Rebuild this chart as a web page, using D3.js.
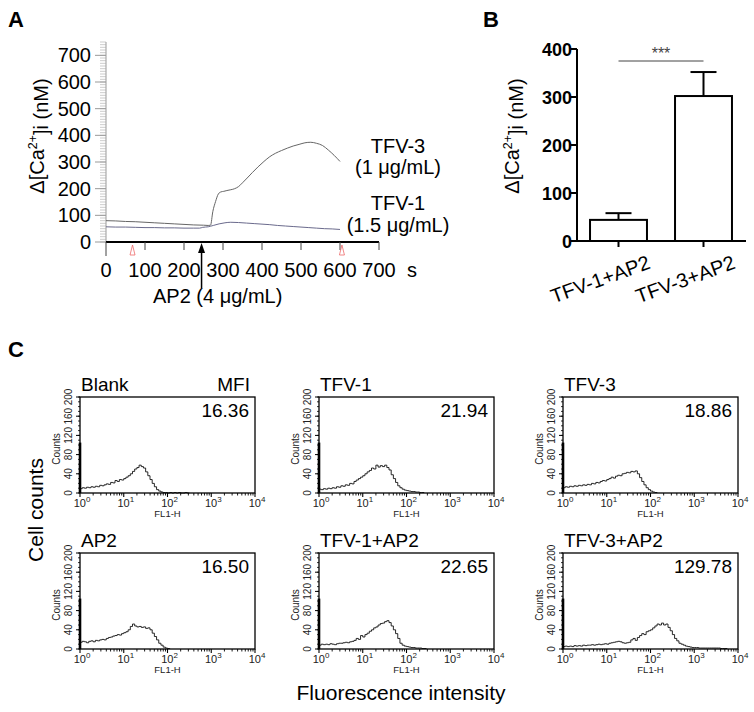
<!DOCTYPE html>
<html><head><meta charset="utf-8">
<script src="https://cdn.jsdelivr.net/npm/d3@7"></script>
<style>body{margin:0;background:#fff} svg{display:block;font-family:"Liberation Sans",Arial,Helvetica,sans-serif}</style>
</head><body><svg id="c" width="754" height="712"></svg>
<script>
// ---------- Panel A data ----------
const tfv3Time = [0,25,50,75,100,125,150,175,200,225,250,262,268,274,281,288,295,302,310,320,330,340,350,362,375,390,405,420,435,450,465,480,495,510,525,540,555,570,585,600];
const tfv3Val  = [80,79,77,76,74,72,70,68,66,64,63,62,63,115,152,180,188,190,193,196,200,208,222,240,260,282,302,320,333,343,352,360,366,372,374,370,362,345,325,302];
const tfv1Time = [0,25,50,75,100,125,150,175,200,225,240,248,262,275,290,305,320,340,360,380,400,420,440,460,480,500,520,540,560,580,600];
const tfv1Val  = [57,56,56,55,54,54,53,53,52,52,52,55,57,62,68,72,74,73,71,69,67,65,62,60,58,56,54,52,50,49,47];
const markerTimes = [68, 605];
const ap2Time = 245;
const aXTicks = [0,100,200,300,400,500,600,700];
const aYTicks = [0,100,200,300,400,500,600,700];

// ---------- Panel B data ----------
const barCats = ["TFV-1+AP2","TFV-3+AP2"];
const barMeans = [44, 302];
const barErr = [14, 50];
const bYTicks = [0,100,200,300,400];

// ---------- Panel C data (counts per 0.05-decade bin starting at 10^0) ----------
const histNames = ["Blank","TFV-1","TFV-3","AP2","TFV-1+AP2","TFV-3+AP2"];
const histMFI = ["16.36","21.94","18.86","16.50","22.65","129.78"];
const histBlank = [9,11,10,12,11,13,12,14,13,16,15,17,19,18,22,21,26,24,28,27,30,33,36,40,45,50,53,58,55,52,44,36,28,20,13,7,4,2,1,1,0,1,0,1,0,1,0,0,1,0,0];
const histTfv1 = [8,7,9,8,10,9,11,10,13,12,15,14,17,16,20,19,24,27,30,33,36,40,44,47,52,50,58,54,57,55,58,53,48,38,30,22,15,11,8,6,5,4,3,3,2,2,1,1,0];
const histTfv3 = [11,13,12,14,13,15,14,16,15,17,16,18,17,20,19,22,21,24,26,25,28,30,33,31,35,37,36,40,41,43,42,45,44,46,40,32,24,17,11,7,4,2,1,0];
const histAp2 = [14,16,15,13,16,17,15,18,17,19,20,19,22,24,25,27,28,30,29,32,34,36,40,47,52,48,46,47,45,46,43,44,40,33,26,19,12,8,4,2,1,0];
const histTfv1Ap2 = [8,10,9,10,9,11,10,9,11,12,12,13,14,13,15,16,18,22,20,28,25,30,33,37,40,44,46,50,53,54,57,59,55,48,40,32,22,12,8,6,5,4,3,3,2,2,2,1,1,0];
const histTfv3Ap2 = [5,6,5,6,5,7,6,7,6,8,7,8,8,9,8,9,10,9,10,11,10,12,13,14,15,16,15,13,12,13,14,19,22,18,24,28,32,30,36,38,40,44,48,52,50,54,50,52,45,38,30,22,17,12,10,8,6,5,4,3,3,3,2,2,2,2,2,2,2,2,2,2,1,1,1,0];
const histData = [histBlank, histTfv1, histTfv3, histAp2, histTfv1Ap2, histTfv3Ap2];
const binStep = 0.05;
const histYTicks = [0,40,80,120,160,200];
const histXTicks = [1,10,100,1000,10000];

const svg = d3.select("#c");

function caLabel(sel){
  sel.append("tspan").text("\u0394[Ca");
  sel.append("tspan").attr("font-size","0.62em").attr("dy","-0.55em").text("2+");
  sel.append("tspan").attr("dy","0.55em").text("]i (nM)");
}

// ================= Panel A =================
const ax = d3.scaleLinear().domain([0,700]).range([106,379]);
const ay = d3.scaleLinear().domain([0,750]).range([242,42]);
const A = svg.append("g");
A.append("text").attr("x",8).attr("y",27).attr("font-size",22).attr("font-weight","bold").text("A");

A.append("line").attr("x1",106).attr("x2",106).attr("y1",ay(0)).attr("y2",ay(750)).attr("stroke","#999").attr("stroke-width",1);
A.selectAll(".ymin").data(d3.range(0,751,10)).enter().append("line")
  .attr("x1",100).attr("x2",106).attr("y1",d=>ay(d)).attr("y2",d=>ay(d)).attr("stroke","#aaa").attr("stroke-width",0.6);
A.selectAll(".ymaj").data(aYTicks).enter().append("line")
  .attr("x1",95).attr("x2",106).attr("y1",d=>ay(d)).attr("y2",d=>ay(d)).attr("stroke","#999").attr("stroke-width",1);
A.selectAll(".ylab").data(aYTicks).enter().append("text")
  .attr("x",91).attr("y",d=>ay(d)+7).attr("text-anchor","end").attr("font-size",20).text(d=>d);
A.append("text").attr("transform","translate(44,136) rotate(-90)").attr("text-anchor","middle").attr("font-size",20).call(caLabel);

const lineA = d3.line().x(d=>ax(d[0])).y(d=>ay(d[1])).curve(d3.curveMonotoneX);
A.append("path").datum(tfv3Time.map((t,i)=>[t,tfv3Val[i]])).attr("d",lineA).attr("fill","none").attr("stroke","#666").attr("stroke-width",1);
A.append("path").datum(tfv1Time.map((t,i)=>[t,tfv1Val[i]])).attr("d",lineA).attr("fill","none").attr("stroke","#6a6a8c").attr("stroke-width",1);

A.append("line").attr("x1",ax(0)).attr("x2",ax(700)).attr("y1",242).attr("y2",242).attr("stroke","#000").attr("stroke-width",2);
A.selectAll(".xt").data(aXTicks).enter().append("line")
  .attr("x1",d=>ax(d)).attr("x2",d=>ax(d)).attr("y1",242).attr("y2",d=>d===0?256:250).attr("stroke","#444").attr("stroke-width",1);
A.selectAll(".xl").data(aXTicks).enter().append("text")
  .attr("x",d=>ax(d)).attr("y",277).attr("text-anchor","middle").attr("font-size",20).text(d=>d);
A.append("text").attr("x",407).attr("y",277).attr("font-size",20).text("s");

A.selectAll(".mk").data(markerTimes).enter().append("path")
  .attr("d",d=>`M${ax(d)},245 L${ax(d)-2.5},255 L${ax(d)+2.5},255 Z`)
  .attr("fill","none").attr("stroke","#ee6a6a").attr("stroke-width",0.8);

A.append("line").attr("x1",ax(ap2Time)).attr("x2",ax(ap2Time)).attr("y1",250).attr("y2",288).attr("stroke","#000").attr("stroke-width",1.5);
A.append("path").attr("d",`M${ax(ap2Time)},243 L${ax(ap2Time)-3.5},253 L${ax(ap2Time)+3.5},253 Z`).attr("fill","#000");
A.append("text").attr("x",153).attr("y",303).attr("font-size",20).text("AP2 (4 \u03bcg/mL)");

const lab = [["TFV-3",153],["(1 \u03bcg/mL)",174],["TFV-1",210],["(1.5 \u03bcg/mL)",232]];
A.selectAll(".tl").data(lab).enter().append("text")
  .attr("x",398).attr("y",d=>d[1]).attr("text-anchor","middle").attr("font-size",20).text(d=>d[0]);

// ================= Panel B =================
const B = svg.append("g");
B.append("text").attr("x",483).attr("y",27).attr("font-size",22).attr("font-weight","bold").text("B");
const bx = d3.scaleBand().domain(barCats).range([576,746]).paddingInner(0.33).paddingOuter(0.165);
const by = d3.scaleLinear().domain([0,400]).range([241,49]);
barCats.forEach((c,i)=>{
  const cx = bx(c)+bx.bandwidth()/2;
  B.append("line").attr("x1",cx).attr("x2",cx).attr("y1",by(barMeans[i])).attr("y2",by(barMeans[i]+barErr[i])).attr("stroke","#000").attr("stroke-width",2);
  B.append("line").attr("x1",cx-13).attr("x2",cx+13).attr("y1",by(barMeans[i]+barErr[i])).attr("y2",by(barMeans[i]+barErr[i])).attr("stroke","#000").attr("stroke-width",2);
});
B.selectAll(".bar").data(barCats).enter().append("rect")
  .attr("x",d=>bx(d)).attr("width",bx.bandwidth())
  .attr("y",(d,i)=>by(barMeans[i])).attr("height",(d,i)=>by(0)-by(barMeans[i]))
  .attr("fill","#fff").attr("stroke","#000").attr("stroke-width",2);
B.append("line").attr("x1",577).attr("x2",577).attr("y1",by(0)+1).attr("y2",by(400)).attr("stroke","#000").attr("stroke-width",2);
B.append("line").attr("x1",576).attr("x2",746).attr("y1",by(0)).attr("y2",by(0)).attr("stroke","#000").attr("stroke-width",2);
B.selectAll(".byt").data(bYTicks).enter().append("line")
  .attr("x1",571).attr("x2",577).attr("y1",d=>by(d)).attr("y2",d=>by(d)).attr("stroke","#000").attr("stroke-width",2);
B.selectAll(".byl").data(bYTicks).enter().append("text")
  .attr("x",572).attr("y",d=>by(d)+6.5).attr("text-anchor","end").attr("font-size",18).attr("font-weight","bold").text(d=>d);
B.selectAll(".bxt").data(barCats).enter().append("line")
  .attr("x1",d=>bx(d)+bx.bandwidth()/2).attr("x2",d=>bx(d)+bx.bandwidth()/2).attr("y1",by(0)).attr("y2",by(0)+6).attr("stroke","#000").attr("stroke-width",2);
B.selectAll(".bxl").data(barCats).enter().append("text")
  .attr("transform",d=>`translate(${bx(d)+bx.bandwidth()/2+33},268) rotate(-20)`)
  .attr("text-anchor","end").attr("font-size",20).text(d=>d);
B.append("text").attr("transform","translate(519,136) rotate(-90)").attr("text-anchor","middle").attr("font-size",20).call(caLabel);
const c1 = bx(barCats[0])+bx.bandwidth()/2, c2 = bx(barCats[1])+bx.bandwidth()/2;
B.append("line").attr("x1",c1).attr("x2",c2).attr("y1",61).attr("y2",61).attr("stroke","#444").attr("stroke-width",1);
B.append("text").attr("x",(c1+c2)/2).attr("y",59).attr("text-anchor","middle").attr("font-size",16).attr("fill","#444").text("***");

// ================= Panel C =================
const C = svg.append("g");
C.append("text").attr("x",8).attr("y",357).attr("font-size",22).attr("font-weight","bold").text("C");
const colX = [80,319,563];
const rowY = [397,553];
const W = 175, H = 96;

histNames.forEach((name,k)=>{
  const x0 = colX[k%3], y0 = rowY[Math.floor(k/3)];
  const g = C.append("g");
  const hx = d3.scaleLog().domain([1,10000]).range([x0,x0+W]);
  const hy = d3.scaleLinear().domain([0,200]).range([y0+H,y0]);
  const line = d3.line().x((d,i)=>hx(Math.pow(10,i*binStep))).y(d=>hy(d)).curve(d3.curveStepAfter);
  g.append("path").datum(histData[k]).attr("d",line).attr("fill","none").attr("stroke","#111").attr("stroke-width",0.9);
  g.append("rect").attr("x",x0).attr("y",y0).attr("width",W).attr("height",H).attr("fill","none").attr("stroke","#000").attr("stroke-width",1.3);
  g.append("line").attr("x1",x0).attr("x2",x0).attr("y1",hy(0)).attr("y2",hy(105)).attr("stroke","#000").attr("stroke-width",2.6);
  g.selectAll(".ymt").data(d3.range(0,201,10)).enter().append("line")
    .attr("x1",x0-2).attr("x2",x0).attr("y1",d=>hy(d)).attr("y2",d=>hy(d)).attr("stroke","#000").attr("stroke-width",0.8);
  g.selectAll(".yt").data(histYTicks).enter().append("line")
    .attr("x1",x0-4).attr("x2",x0).attr("y1",d=>hy(d)).attr("y2",d=>hy(d)).attr("stroke","#000").attr("stroke-width",1);
  g.selectAll(".yl").data(histYTicks).enter().append("text")
    .attr("transform",d=>`translate(${x0-8.5},${hy(d)}) rotate(-90)`).attr("text-anchor","middle")
    .attr("font-size",10).attr("fill","#222").text(d=>d);
  g.append("text").attr("transform",`translate(${x0-20},${y0+H/2+4}) rotate(-90)`).attr("text-anchor","middle")
    .attr("font-size",10).attr("fill","#222").text("Counts");
  const minors = [];
  for(let e=0;e<4;e++) for(let m=2;m<10;m++) minors.push(m*Math.pow(10,e));
  g.selectAll(".xmt").data(minors).enter().append("line")
    .attr("x1",d=>hx(d)).attr("x2",d=>hx(d)).attr("y1",y0+H).attr("y2",y0+H+2.5).attr("stroke","#000").attr("stroke-width",0.9);
  g.selectAll(".xt").data(histXTicks).enter().append("line")
    .attr("x1",d=>hx(d)).attr("x2",d=>hx(d)).attr("y1",y0+H).attr("y2",y0+H+4).attr("stroke","#000").attr("stroke-width",1.1);
  const xl = g.selectAll(".xl").data(histXTicks).enter().append("text")
    .attr("x",d=>hx(d)+2).attr("y",y0+H+14).attr("text-anchor","middle").attr("font-size",11).attr("fill","#222");
  xl.append("tspan").text("10");
  xl.append("tspan").attr("font-size",8).attr("dy",-5).text(d=>Math.round(Math.log10(d)));
  g.append("text").attr("x",x0+W/2).attr("y",y0+H+24).attr("text-anchor","middle").attr("font-size",9.5).attr("fill","#222").text("FL1-H");
  g.append("text").attr("x",x0+1).attr("y",y0-6).attr("font-size",19).text(name);
  g.append("text").attr("x",x0+W-6).attr("y",y0+20).attr("text-anchor","end").attr("font-size",19).text(histMFI[k]);
  if(k===0) g.append("text").attr("x",x0+W-5).attr("y",y0-6).attr("text-anchor","end").attr("font-size",19).text("MFI");
});
C.append("text").attr("transform","translate(43,510) rotate(-90)").attr("text-anchor","middle").attr("font-size",21).text("Cell counts");
C.append("text").attr("x",401).attr("y",700).attr("text-anchor","middle").attr("font-size",21).text("Fluorescence intensity");
</script></body></html>
